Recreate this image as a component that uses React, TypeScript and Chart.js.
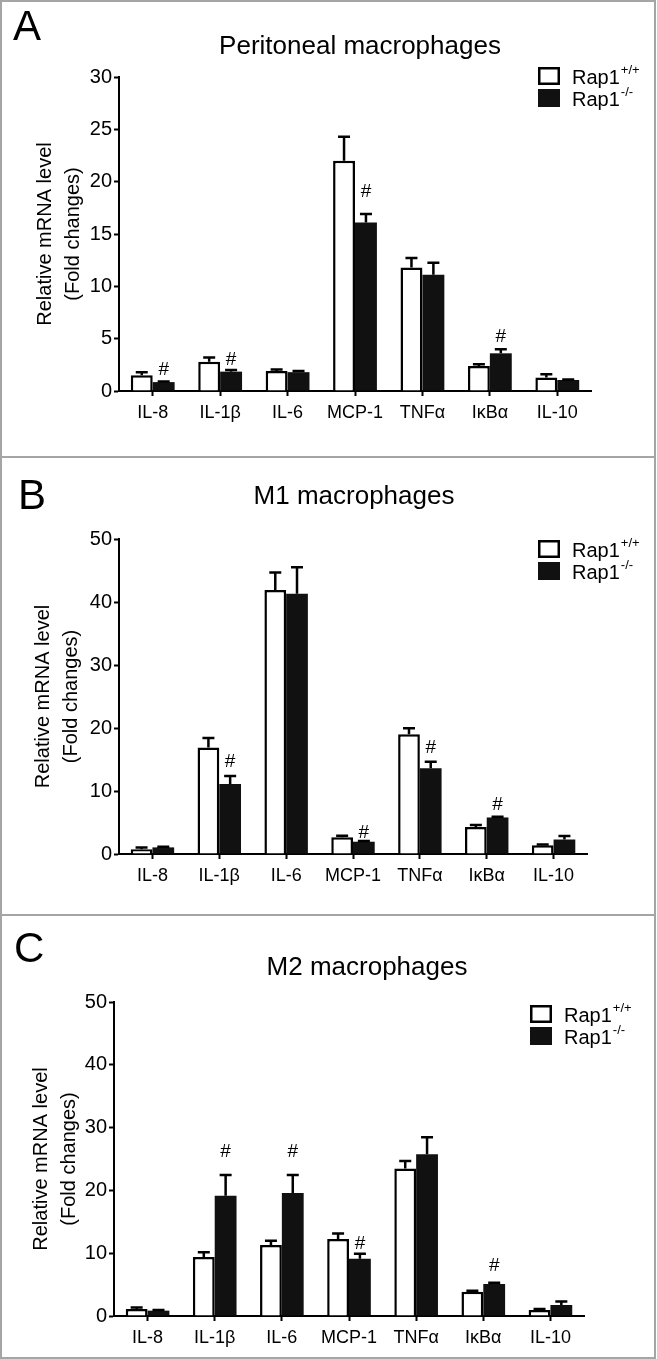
import React, { useEffect, useRef } from 'react';
import { Chart, registerables } from 'chart.js';

Chart.register(...registerables);

const FONT = "'Liberation Sans', Arial, Helvetica, sans-serif";

// ---------- data ----------
const categories = ['IL-8', 'IL-1β', 'IL-6', 'MCP-1', 'TNFα', 'IκBα', 'IL-10'];
const seriesNames = ['Rap1', 'Rap1'];
const seriesSups = ['+/+', '-/-'];
const yTitleLines = ['Relative mRNA level', '(Fold changes)'];

const titleA = 'Peritoneal macrophages';
const ticksA = [0, 5, 10, 15, 20, 25, 30];
const wtA = [1.5, 2.8, 1.9, 22.0, 11.8, 2.4, 1.3];
const wtErrA = [0.3, 0.4, 0.15, 2.3, 0.9, 0.15, 0.3];
const koA = [0.85, 1.85, 1.8, 16.1, 11.1, 3.6, 1.05];
const koErrA = [0.05, 0.15, 0.1, 0.8, 1.15, 0.4, 0.05];
const hashA = [2.0, 3.0, null, 19.0, null, 5.2, null];

const titleB = 'M1 macrophages';
const ticksB = [0, 10, 20, 30, 40, 50];
const wtB = [0.75, 16.9, 41.9, 2.65, 19.0, 4.3, 1.4];
const wtErrB = [0.3, 1.5, 2.8, 0.25, 0.95, 0.3, 0.1];
const koB = [1.05, 11.1, 41.3, 1.95, 13.6, 5.8, 2.3];
const koErrB = [0.1, 1.3, 4.2, 0.1, 1.05, 0.12, 0.55];
const hashB = [null, 14.65, null, 3.4, 16.8, 7.8, null];

const titleC = 'M2 macrophages';
const ticksC = [0, 10, 20, 30, 40, 50];
const wtC = [1.1, 9.4, 11.3, 12.25, 23.5, 3.85, 0.95];
const wtErrC = [0.25, 0.75, 0.7, 0.9, 1.2, 0.18, 0.15];
const koC = [0.85, 19.15, 19.6, 9.1, 25.75, 5.1, 1.75];
const koErrC = [0.1, 3.3, 2.85, 0.8, 2.7, 0.2, 0.55];
const hashC = [null, 26.2, 26.2, 11.5, null, 8.0, null];

type Geo = {
  top: number; height: number; axisX: number; right: number;
  chartTop: number; chartBottom: number; titleX: number; titleY: number;
  letterX: number; letterY: number; legendX: number; legendY: number; yTitleX: number;
};

type PanelProps = {
  letter: string; title: string; ticks: number[];
  wt: number[]; wtErr: number[]; ko: number[]; koErr: number[];
  hash: (number | null)[]; geo: Geo;
};

const W = 657;

function Panel({ letter, title, ticks, wt, wtErr, ko, koErr, hash, geo }: PanelProps) {
  const ref = useRef<HTMLCanvasElement>(null);

  useEffect(() => {
    const canvas = ref.current!;
    const errs = [wtErr, koErr];

    const extras = {
      id: 'extras',
      afterDatasetsDraw(chart: any) {
        const ctx = chart.ctx;
        const y = chart.scales.y;
        ctx.save();
        ctx.strokeStyle = '#000';
        ctx.lineWidth = 2.5;
        chart.data.datasets.forEach((ds: any, di: number) => {
          const meta = chart.getDatasetMeta(di);
          meta.data.forEach((bar: any, i: number) => {
            const v = ds.data[i];
            const e = errs[di][i];
            const topPx = y.getPixelForValue(v + e);
            const basePx = y.getPixelForValue(v);
            const half = 6;
            ctx.beginPath();
            ctx.moveTo(bar.x, basePx);
            ctx.lineTo(bar.x, topPx);
            ctx.moveTo(bar.x - half, topPx);
            ctx.lineTo(bar.x + half, topPx);
            ctx.stroke();
          });
        });
        const koMeta = chart.getDatasetMeta(1);
        ctx.fillStyle = '#000';
        ctx.font = `19px ${FONT}`;
        ctx.textAlign = 'center';
        ctx.textBaseline = 'middle';
        hash.forEach((h, i) => {
          if (h == null) return;
          ctx.fillText('#', koMeta.data[i].x, y.getPixelForValue(h));
        });
        ctx.restore();
      },
      afterDraw(chart: any) {
        const ctx = chart.ctx;
        ctx.save();
        ctx.fillStyle = '#000';
        // panel letter
        ctx.font = `42px ${FONT}`;
        ctx.textAlign = 'left';
        ctx.textBaseline = 'middle';
        ctx.fillText(letter, geo.letterX, geo.letterY);
        // title
        ctx.font = `26px ${FONT}`;
        ctx.textAlign = 'center';
        ctx.fillText(title, geo.titleX, geo.titleY);
        // legend
        const bw = 22, bh = 18, gap = 4;
        chart.data.datasets.forEach((ds: any, di: number) => {
          const bx = geo.legendX;
          const by = geo.legendY + di * (bh + gap);
          if (di === 0) {
            ctx.fillStyle = '#fff';
            ctx.fillRect(bx, by, bw, bh);
            ctx.strokeStyle = '#000';
            ctx.lineWidth = 2.5;
            ctx.strokeRect(bx + 1.25, by + 1.25, bw - 2.5, bh - 2.5);
          } else {
            ctx.fillStyle = '#111';
            ctx.fillRect(bx, by, bw, bh);
          }
          ctx.fillStyle = '#000';
          ctx.font = `20px ${FONT}`;
          ctx.textAlign = 'left';
          ctx.textBaseline = 'middle';
          const tx = bx + bw + 12;
          const ty = by + bh / 2 + 2;
          ctx.fillText(seriesNames[di], tx, ty);
          const w = ctx.measureText(seriesNames[di]).width;
          ctx.font = `13px ${FONT}`;
          ctx.fillText(seriesSups[di], tx + w + 1, ty - 8);
        });
        ctx.restore();
      },
    };

    const chart = new Chart(canvas, {
      type: 'bar',
      data: {
        labels: categories,
        datasets: [
          {
            label: seriesNames[0] + seriesSups[0],
            data: wt,
            backgroundColor: '#fff',
            borderColor: '#000',
            borderWidth: 2.5,
            categoryPercentage: 0.65,
            barPercentage: 1.0,
          },
          {
            label: seriesNames[1] + seriesSups[1],
            data: ko,
            backgroundColor: '#111',
            borderColor: '#111',
            borderWidth: 0,
            categoryPercentage: 0.65,
            barPercentage: 1.0,
          },
        ],
      },
      options: {
        animation: false,
        responsive: false,
        devicePixelRatio: 1,
        layout: {
          padding: { top: geo.chartTop, left: 0, right: W - geo.right, bottom: 0 },
        },
        plugins: {
          legend: { display: false },
          title: { display: false },
          tooltip: { enabled: false },
        },
        scales: {
          x: {
            offset: true,
            grid: {
              display: true,
              drawOnChartArea: false,
              drawTicks: true,
              offset: false,
              tickLength: 5,
              tickWidth: 2,
              tickColor: '#000',
            },
            border: { display: true, color: '#000', width: 2 },
            ticks: {
              color: '#000',
              font: { family: FONT, size: 18 },
              padding: 6,
              maxRotation: 0,
              autoSkip: false,
            },
            afterFit: (s: any) => { s.height = geo.height - geo.chartBottom; },
          },
          y: {
            min: ticks[0],
            max: ticks[ticks.length - 1],
            grid: {
              display: true,
              drawOnChartArea: false,
              drawTicks: true,
              tickLength: 5,
              tickWidth: 2,
              tickColor: '#000',
            },
            border: { display: true, color: '#000', width: 2 },
            ticks: {
              color: '#000',
              font: { family: FONT, size: 20 },
              padding: 2,
              stepSize: ticks[1] - ticks[0],
            },
            title: {
              display: true,
              text: yTitleLines,
              color: '#000',
              font: { family: FONT, size: 20, lineHeight: 1.4 },
              padding: { top: geo.yTitleX - 14, bottom: 0 },
            },
            afterFit: (s: any) => { s.width = geo.axisX; },
          },
        },
      },
      plugins: [extras],
    } as any);

    return () => chart.destroy();
  }, []);

  return (
    <canvas
      ref={ref}
      width={W}
      height={geo.height}
      style={{ position: 'absolute', left: 0, top: geo.top, width: W, height: geo.height, display: 'block' }}
    />
  );
}

const geoA: Geo = {
  top: 0, height: 457, axisX: 119, right: 591, chartTop: 77, chartBottom: 391,
  titleX: 360, titleY: 47, letterX: 13, letterY: 28, legendX: 538, legendY: 67, yTitleX: 45,
};
const geoB: Geo = {
  top: 457, height: 458, axisX: 119, right: 587, chartTop: 82, chartBottom: 397,
  titleX: 354, titleY: 40, letterX: 18, letterY: 40, legendX: 538, legendY: 83, yTitleX: 43,
};
const geoC: Geo = {
  top: 915, height: 444, axisX: 114, right: 584, chartTop: 87, chartBottom: 401,
  titleX: 367, titleY: 53, letterX: 14, letterY: 35, legendX: 530, legendY: 90, yTitleX: 41,
};

export default function App() {
  useEffect(() => {
    document.body.style.margin = '0';
  }, []);
  const frame = '#a5a5a5';
  return (
    <div style={{ position: 'absolute', left: 0, top: 0, width: W, height: 1359, background: '#fff', overflow: 'hidden' }}>
      <Panel letter="A" title={titleA} ticks={ticksA} wt={wtA} wtErr={wtErrA} ko={koA} koErr={koErrA} hash={hashA} geo={geoA} />
      <Panel letter="B" title={titleB} ticks={ticksB} wt={wtB} wtErr={wtErrB} ko={koB} koErr={koErrB} hash={hashB} geo={geoB} />
      <Panel letter="C" title={titleC} ticks={ticksC} wt={wtC} wtErr={wtErrC} ko={koC} koErr={koErrC} hash={hashC} geo={geoC} />
      <div style={{ position: 'absolute', left: 0, top: 0, width: 656, height: 1359, boxSizing: 'border-box', border: `2px solid ${frame}`, pointerEvents: 'none' }} />
      <div style={{ position: 'absolute', left: 0, top: 456, width: 656, height: 2, background: frame }} />
      <div style={{ position: 'absolute', left: 0, top: 914, width: 656, height: 2, background: frame }} />
    </div>
  );
}
